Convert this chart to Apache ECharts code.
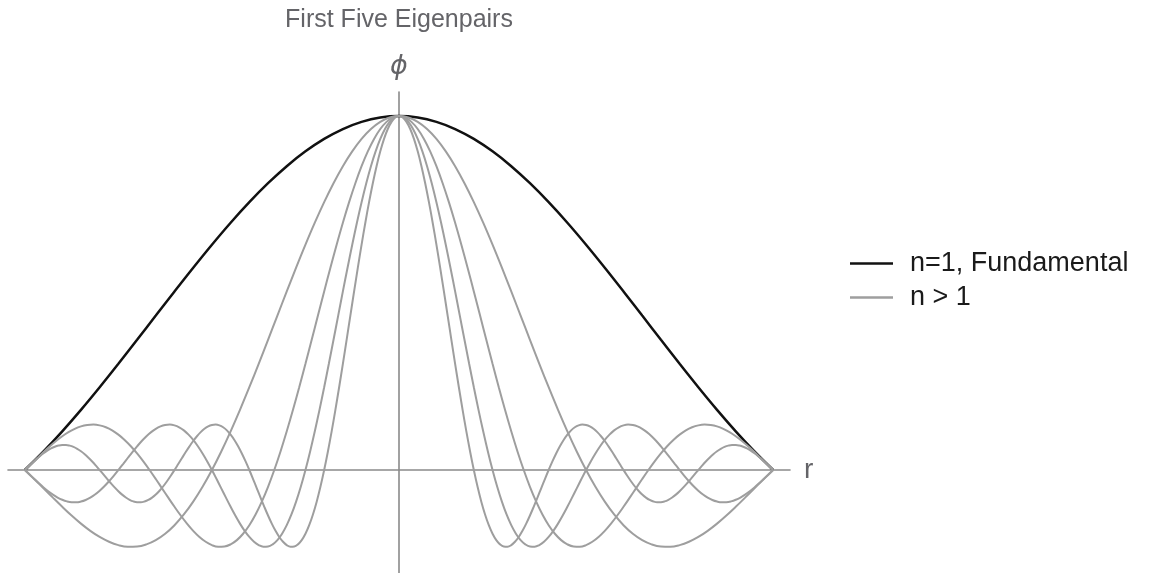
<!DOCTYPE html>
<html>
<head>
<meta charset="utf-8">
<script src="https://cdn.jsdelivr.net/npm/echarts@6/dist/echarts.min.js"></script>
<style>
  html, body { margin: 0; padding: 0; background: #ffffff; }
  #chart { width: 1158px; height: 573px; }
</style>
</head>
<body>
<div id="chart"></div>
<script>
// Radial eigenfunctions phi_n(r), sampled on r >= 0 (each curve is even in r).
const phi1 = [
  1, 0.9959, 0.9836, 0.9634, 0.9355, 0.9003, 0.8584, 0.8103, 0.7568, 0.6987,
  0.6366, 0.5716, 0.5046, 0.4363, 0.3679, 0.3001, 0.2339, 0.1700, 0.1093, 0.0524, 0];
const phi2 = [
  1, 0.9959, 0.9836, 0.9634, 0.9355, 0.9003, 0.8584, 0.8103, 0.7568, 0.6987,
  0.6366, 0.5716, 0.5046, 0.4363, 0.3679, 0.3001, 0.2339, 0.1700, 0.1093, 0.0524,
  0, -0.0474, -0.0894, -0.1257, -0.1559, -0.1801, -0.1981, -0.2101, -0.2162, -0.2168,
  -0.2122, -0.2028, -0.1892, -0.1719, -0.1515, -0.1286, -0.1039, -0.0781, -0.0518, -0.0255, 0];
const phi3 = [
  1, 0.9959, 0.9836, 0.9634, 0.9355, 0.9003, 0.8584, 0.8103, 0.7568, 0.6987,
  0.6366, 0.5716, 0.5046, 0.4363, 0.3679, 0.3001, 0.2339, 0.1700, 0.1093, 0.0524,
  0, -0.0474, -0.0894, -0.1257, -0.1559, -0.1801, -0.1981, -0.2101, -0.2162, -0.2168,
  -0.2122, -0.2028, -0.1892, -0.1719, -0.1515, -0.1286, -0.1039, -0.0781, -0.0518, -0.0255,
  0, 0.0243, 0.0468, 0.0672, 0.0850, 0.1000, 0.1120, 0.1207, 0.1261, 0.1283,
  0.1273, 0.1233, 0.1164, 0.1070, 0.0954, 0.0819, 0.0668, 0.0507, 0.0339, 0.0169, 0];
const phi4 = [
  1, 0.9959, 0.9836, 0.9634, 0.9355, 0.9003, 0.8584, 0.8103, 0.7568, 0.6987,
  0.6366, 0.5716, 0.5046, 0.4363, 0.3679, 0.3001, 0.2339, 0.1700, 0.1093, 0.0524,
  0, -0.0474, -0.0894, -0.1257, -0.1559, -0.1801, -0.1981, -0.2101, -0.2162, -0.2168,
  -0.2122, -0.2028, -0.1892, -0.1719, -0.1515, -0.1286, -0.1039, -0.0781, -0.0518, -0.0255,
  0, 0.0243, 0.0468, 0.0672, 0.0850, 0.1000, 0.1120, 0.1207, 0.1261, 0.1283,
  0.1273, 0.1233, 0.1164, 0.1070, 0.0954, 0.0819, 0.0668, 0.0507, 0.0339, 0.0169,
  0, -0.0163, -0.0317, -0.0459, -0.0585, -0.0693, -0.0780, -0.0847, -0.0890, -0.0911,
  -0.0909, -0.0886, -0.0841, -0.0777, -0.0696, -0.0600, -0.0492, -0.0375, -0.0252, -0.0126, 0];
const phi5 = [
  1, 0.9959, 0.9836, 0.9634, 0.9355, 0.9003, 0.8584, 0.8103, 0.7568, 0.6987,
  0.6366, 0.5716, 0.5046, 0.4363, 0.3679, 0.3001, 0.2339, 0.1700, 0.1093, 0.0524,
  0, -0.0474, -0.0894, -0.1257, -0.1559, -0.1801, -0.1981, -0.2101, -0.2162, -0.2168,
  -0.2122, -0.2028, -0.1892, -0.1719, -0.1515, -0.1286, -0.1039, -0.0781, -0.0518, -0.0255,
  0, 0.0243, 0.0468, 0.0672, 0.0850, 0.1000, 0.1120, 0.1207, 0.1261, 0.1283,
  0.1273, 0.1233, 0.1164, 0.1070, 0.0954, 0.0819, 0.0668, 0.0507, 0.0339, 0.0169,
  0, -0.0163, -0.0317, -0.0459, -0.0585, -0.0693, -0.0780, -0.0847, -0.0890, -0.0911,
  -0.0909, -0.0886, -0.0841, -0.0777, -0.0696, -0.0600, -0.0492, -0.0375, -0.0252, -0.0126,
  0, 0.0123, 0.0240, 0.0348, 0.0446, 0.0530, 0.0599, 0.0652, 0.0688, 0.0707,
  0.0707, 0.0691, 0.0658, 0.0610, 0.0548, 0.0474, 0.0390, 0.0298, 0.0201, 0.0101, 0];

// Spacing in r between consecutive samples of each curve (r runs from 0 to 1).
const sampleStep = [0.05, 0.025, 1 / 60, 0.0125, 0.01];
const curveValues = [phi1, phi2, phi3, phi4, phi5];
const curveNames = ['n=1, Fundamental', 'n > 1', 'n > 1', 'n > 1', 'n > 1'];

const TEXT_FONT = '"Liberation Sans", Arial, Helvetica, sans-serif';

// Build the full [-1, 1] profile from the r >= 0 samples.
function fullProfile(values, step) {
  const pts = [];
  for (let i = values.length - 1; i > 0; i--) pts.push([-i * step, values[i]]);
  for (let i = 0; i < values.length; i++) pts.push([i * step, values[i]]);
  return pts;
}

const series = curveValues.map((vals, idx) => ({
  name: curveNames[idx],
  type: 'line',
  data: fullProfile(vals, sampleStep[idx]),
  smooth: 0.4,
  showSymbol: false,
  symbol: 'none',
  silent: true,
  lineStyle: idx === 0
    ? { color: '#111111', width: 2.5 }
    : { color: '#9e9e9e', width: 2 },
  itemStyle: { color: idx === 0 ? '#111111' : '#9e9e9e' }
}));

const chart = echarts.init(document.getElementById('chart'), null, { renderer: 'canvas' });
chart.setOption({
  animation: false,
  backgroundColor: '#ffffff',
  graphic: [{
    type: 'text',
    x: 399,
    y: 20,
    style: {
      text: 'First Five Eigenpairs',
      align: 'center',
      verticalAlign: 'middle',
      fontFamily: TEXT_FONT,
      fontSize: 25,
      fill: '#646468'
    }
  }],
  legend: {
    orient: 'vertical',
    left: 850,
    top: 250,
    padding: 0,
    itemGap: 7,
    itemWidth: 43,
    itemHeight: 2.5,
    icon: 'rect',
    data: ['n=1, Fundamental', 'n > 1'],
    textStyle: {
      fontFamily: TEXT_FONT,
      fontSize: 27,
      lineHeight: 26,
      color: '#1a1a1a',
      padding: [0, 0, 0, 12]
    }
  },
  grid: { left: 8, right: 368, top: 92, bottom: 0, containLabel: false },
  xAxis: {
    type: 'value',
    min: -1.045,
    max: 1.045,
    name: 'r',
    nameLocation: 'end',
    nameGap: 14,
    nameTextStyle: { fontFamily: TEXT_FONT, fontSize: 28, color: '#646468', verticalAlign: 'middle', padding: [12, 0, 0, 0] },
    axisLine: { show: true, onZero: true, lineStyle: { color: '#8a8a8a', width: 1.6 } },
    axisTick: { show: false },
    axisLabel: { show: false },
    splitLine: { show: false }
  },
  yAxis: {
    type: 'value',
    min: -0.291,
    max: 1.068,
    name: 'ϕ',
    nameLocation: 'end',
    nameGap: 12,
    nameTextStyle: { fontFamily: '"DejaVu Sans", sans-serif', fontStyle: 'italic', fontSize: 27, color: '#646468', align: 'center' },
    axisLine: { show: true, onZero: true, lineStyle: { color: '#8a8a8a', width: 1.6 } },
    axisTick: { show: false },
    axisLabel: { show: false },
    splitLine: { show: false }
  },
  series: series
});
</script>
</body>
</html>
